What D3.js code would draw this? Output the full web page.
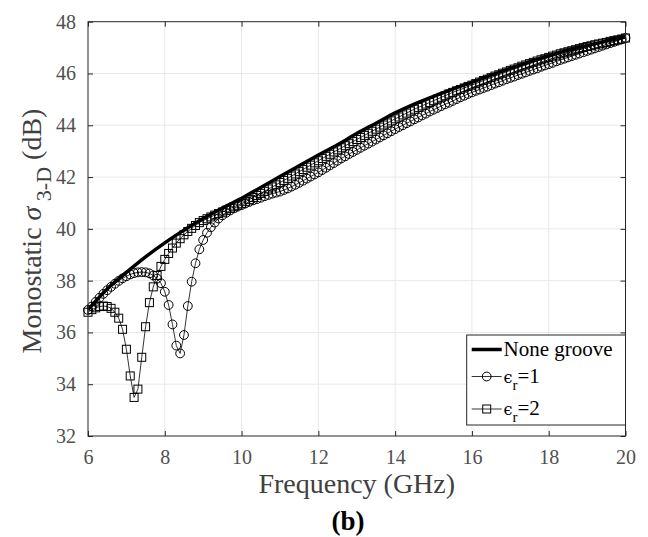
<!DOCTYPE html>
<html>
<head>
<meta charset="utf-8">
<script src="https://cdn.jsdelivr.net/npm/d3@7"></script>
<style>
  body { margin: 0; background: #fff; }
  text { font-family: "Liberation Serif", "Times New Roman", serif; }
</style>
</head>
<body>
<svg id="chart"></svg>
<script>
// frequency grid of the two grooved cases (GHz), 0.1 GHz step
var freqStep = d3.range(141).map(function(i){ return +(6 + i * 0.1).toFixed(1); });

// None groove curve (read every 0.5 GHz)
var noneFreq = [6, 6.5, 7, 7.5, 8, 8.5, 9, 9.5, 10, 10.5, 11, 11.5, 12, 12.5, 13,
    13.5, 14, 14.5, 15, 15.5, 16, 16.5, 17, 17.5, 18, 18.5, 19, 19.5, 20];
var noneGroove = [36.88, 37.68, 38.32, 38.92, 39.46, 39.95, 40.40, 40.80, 41.18, 41.60,
    42.02, 42.44, 42.85, 43.25, 43.68, 44.08, 44.48, 44.82, 45.12, 45.40, 45.66, 45.94,
    46.20, 46.45, 46.68, 46.90, 47.08, 47.25, 47.42];

// epsilon_r = 1 (circles)
var er1 = [
    36.87, 37.00, 37.18, 37.34, 37.49, 37.63, 37.76, 37.88, 37.99, 38.09,
    38.17, 38.24, 38.29, 38.32, 38.33, 38.32, 38.28, 38.20, 38.08, 37.90,
    37.57, 37.06, 36.31, 35.49, 35.19, 35.90, 37.02, 37.96, 38.67, 39.21,
    39.57, 39.85, 40.06, 40.24, 40.40, 40.52, 40.62, 40.71, 40.79, 40.86,
    40.92, 40.98, 41.04, 41.10, 41.15, 41.20, 41.26, 41.31, 41.36, 41.40,
    41.44, 41.50, 41.56, 41.63, 41.70, 41.78, 41.86, 41.94, 42.02, 42.10,
    42.18, 42.27, 42.36, 42.45, 42.54, 42.63, 42.72, 42.80, 42.89, 42.97,
    43.05, 43.13, 43.21, 43.29, 43.37, 43.45, 43.53, 43.61, 43.69, 43.77,
    43.85, 43.93, 44.00, 44.08, 44.15, 44.23, 44.30, 44.38, 44.45, 44.53,
    44.60, 44.67, 44.74, 44.81, 44.87, 44.94, 45.01, 45.08, 45.14, 45.21,
    45.27, 45.33, 45.38, 45.44, 45.49, 45.55, 45.61, 45.66, 45.72, 45.78,
    45.83, 45.88, 45.94, 45.99, 46.04, 46.10, 46.15, 46.20, 46.26, 46.31,
    46.36, 46.41, 46.47, 46.52, 46.57, 46.62, 46.67, 46.72, 46.77, 46.82,
    46.87, 46.92, 46.97, 47.02, 47.07, 47.12, 47.17, 47.22, 47.27, 47.32,
    47.37];

// epsilon_r = 2 (squares)
var er2 = [
    36.78, 36.88, 36.95, 37.00, 37.02, 37.00, 36.93, 36.78, 36.55, 36.12,
    35.35, 34.32, 33.49, 33.81, 35.04, 36.22, 37.15, 37.76, 38.20, 38.55,
    38.82, 39.05, 39.26, 39.45, 39.62, 39.77, 39.90, 40.02, 40.13, 40.24,
    40.32, 40.39, 40.46, 40.53, 40.59, 40.65, 40.72, 40.79, 40.85, 40.91,
    40.97, 41.05, 41.13, 41.21, 41.29, 41.37, 41.45, 41.54, 41.62, 41.70,
    41.79, 41.87, 41.95, 42.04, 42.12, 42.21, 42.29, 42.38, 42.46, 42.55,
    42.63, 42.72, 42.80, 42.88, 42.97, 43.05, 43.13, 43.21, 43.29, 43.37,
    43.45, 43.53, 43.61, 43.69, 43.77, 43.85, 43.93, 44.01, 44.09, 44.17,
    44.25, 44.32, 44.40, 44.47, 44.55, 44.62, 44.69, 44.75, 44.82, 44.88,
    44.95, 45.01, 45.08, 45.14, 45.21, 45.27, 45.33, 45.38, 45.44, 45.50,
    45.55, 45.61, 45.67, 45.73, 45.78, 45.84, 45.90, 45.95, 46.01, 46.06,
    46.12, 46.17, 46.22, 46.28, 46.33, 46.38, 46.43, 46.48, 46.53, 46.57,
    46.62, 46.67, 46.71, 46.76, 46.80, 46.84, 46.88, 46.92, 46.96, 47.00,
    47.04, 47.07, 47.11, 47.14, 47.17, 47.20, 47.24, 47.27, 47.30, 47.33,
    47.37];

var xTicks = [6, 8, 10, 12, 14, 16, 18, 20];
var yTicks = [32, 34, 36, 38, 40, 42, 44, 46, 48];

var width = 648, height = 537;
var plotLeft = 88, plotRight = 625.5, plotTop = 21.7, plotBottom = 436;
var markR = 4.4, markSq = 8;

var svg = d3.select("#chart")
    .attr("width", width)
    .attr("height", height);

var x = d3.scaleLinear().domain([6, 20]).range([plotLeft, plotRight]);
var y = d3.scaleLinear().domain([32, 48]).range([plotBottom, plotTop]);

// grid
var grid = svg.append("g");
grid.selectAll("line.vx")
    .data(xTicks.slice(1, -1))
    .enter()
    .append("line")
    .attr("x1", function(d){ return x(d); })
    .attr("x2", function(d){ return x(d); })
    .attr("y1", plotTop)
    .attr("y2", plotBottom)
    .attr("stroke", "#e8e8e8")
    .attr("stroke-width", 1);
grid.selectAll("line.hy")
    .data(yTicks.slice(1, -1))
    .enter()
    .append("line")
    .attr("y1", function(d){ return y(d); })
    .attr("y2", function(d){ return y(d); })
    .attr("x1", plotLeft)
    .attr("x2", plotRight)
    .attr("stroke", "#e8e8e8")
    .attr("stroke-width", 1);

// data
var noneData = noneFreq.map(function(f, i){ return [f, noneGroove[i]]; });
var er1Data = freqStep.map(function(f, i){ return [f, er1[i]]; });
var er2Data = freqStep.map(function(f, i){ return [f, er2[i]]; });

var smooth = d3.line()
    .x(function(d){ return x(d[0]); })
    .y(function(d){ return y(d[1]); })
    .curve(d3.curveMonotoneX);
var straight = d3.line()
    .x(function(d){ return x(d[0]); })
    .y(function(d){ return y(d[1]); });

svg.append("path")
    .attr("d", smooth(noneData))
    .attr("fill", "none")
    .attr("stroke", "#000")
    .attr("stroke-width", 3.5);

svg.append("path")
    .attr("d", straight(er1Data))
    .attr("fill", "none")
    .attr("stroke", "#000")
    .attr("stroke-width", 0.8);
svg.append("g")
    .selectAll("circle")
    .data(er1Data)
    .enter()
    .append("circle")
    .attr("cx", function(d){ return x(d[0]); })
    .attr("cy", function(d){ return y(d[1]); })
    .attr("r", markR)
    .attr("fill", "none")
    .attr("stroke", "#000")
    .attr("stroke-width", 1);

svg.append("path")
    .attr("d", straight(er2Data))
    .attr("fill", "none")
    .attr("stroke", "#000")
    .attr("stroke-width", 0.8);
svg.append("g")
    .selectAll("rect")
    .data(er2Data)
    .enter()
    .append("rect")
    .attr("x", function(d){ return x(d[0]) - markSq / 2; })
    .attr("y", function(d){ return y(d[1]) - markSq / 2; })
    .attr("width", markSq)
    .attr("height", markSq)
    .attr("fill", "none")
    .attr("stroke", "#000")
    .attr("stroke-width", 1);

// axes box with inward ticks on all sides
var axisColor = "#262626";
var xAxisB = d3.axisBottom(x).tickValues(xTicks).tickSize(-5).tickPadding(14);
var xAxisT = d3.axisTop(x).tickValues(xTicks).tickSize(-5).tickFormat("");
var yAxisL = d3.axisLeft(y).tickValues(yTicks).tickSize(-5).tickPadding(12);
var yAxisR = d3.axisRight(y).tickValues(yTicks).tickSize(-5).tickFormat("");

function styleAxis(g){
    g.attr("font-family", "Liberation Serif, serif");
    g.select(".domain").remove();
    g.selectAll(".tick line").attr("stroke", axisColor);
    g.selectAll(".tick text")
        .attr("fill", "#505050")
        .style("font-size", "20px")
        .style("font-family", "Liberation Serif, serif");
}
svg.append("g").attr("transform", "translate(0," + plotBottom + ")").call(xAxisB).call(styleAxis);
svg.append("g").attr("transform", "translate(0," + plotTop + ")").call(xAxisT).call(styleAxis);
svg.append("g").attr("transform", "translate(" + plotLeft + ",0)").call(yAxisL).call(styleAxis);
svg.append("g").attr("transform", "translate(" + plotRight + ",0)").call(yAxisR).call(styleAxis);

svg.append("rect")
    .attr("x", plotLeft)
    .attr("y", plotTop)
    .attr("width", plotRight - plotLeft)
    .attr("height", plotBottom - plotTop)
    .attr("fill", "none")
    .attr("stroke", axisColor)
    .attr("stroke-width", 1);

// axis labels
svg.append("text")
    .attr("x", (plotLeft + plotRight) / 2)
    .attr("y", 493)
    .attr("text-anchor", "middle")
    .attr("fill", "#404040")
    .style("font-size", "28px")
    .text("Frequency (GHz)");

svg.append("text")
    .attr("x", 348)
    .attr("y", 530)
    .attr("text-anchor", "middle")
    .attr("fill", "#000")
    .style("font-size", "27px")
    .style("font-weight", "bold")
    .text("(b)");

var yLab = svg.append("text")
    .attr("transform", "translate(41,231) rotate(-90)")
    .attr("text-anchor", "middle")
    .attr("fill", "#404040")
    .style("font-size", "28px");
yLab.append("tspan").text("Monostatic ");
yLab.append("tspan").style("font-style", "italic").text("σ");
yLab.append("tspan").attr("dy", 10).style("font-size", "22px").text(" 3-D");
yLab.append("tspan").attr("dy", -10).text(" (dB)");

// legend
var lg = svg.append("g");
lg.append("rect")
    .attr("x", 466.7)
    .attr("y", 335)
    .attr("width", plotRight - 466.7)
    .attr("height", 90)
    .attr("fill", "#fff")
    .attr("stroke", axisColor)
    .attr("stroke-width", 1);

var legendRows = [
    { name: "None groove", y: 349.5, kind: "none" },
    { name: "1", y: 376.5, kind: "circle" },
    { name: "2", y: 409, kind: "square" }
];
legendRows.forEach(function(r){
    lg.append("line")
        .attr("x1", 471.7).attr("x2", 501.7)
        .attr("y1", r.y).attr("y2", r.y)
        .attr("stroke", "#000")
        .attr("stroke-width", r.kind == "none" ? 3.5 : 0.8);
    if (r.kind == "circle") {
        lg.append("circle")
            .attr("cx", 486.7).attr("cy", r.y).attr("r", markR)
            .attr("fill", "none").attr("stroke", "#000").attr("stroke-width", 1);
    } else if (r.kind == "square") {
        lg.append("rect")
            .attr("x", 486.7 - markSq / 2).attr("y", r.y - markSq / 2)
            .attr("width", markSq).attr("height", markSq)
            .attr("fill", "none").attr("stroke", "#000").attr("stroke-width", 1);
    }
    var t = lg.append("text")
        .attr("x", 503.5)
        .attr("y", r.y + 6)
        .attr("fill", "#000")
        .style("font-size", "21px");
    if (r.kind == "none") {
        t.text(r.name);
    } else {
        t.append("tspan").style("font-family", "DejaVu Serif, serif").style("font-size", "16px").text("ϵ");
        t.append("tspan").attr("dy", 7).style("font-size", "15px").text("r");
        t.append("tspan").attr("dy", -7).text("=" + r.name);
    }
});
</script>
</body>
</html>
